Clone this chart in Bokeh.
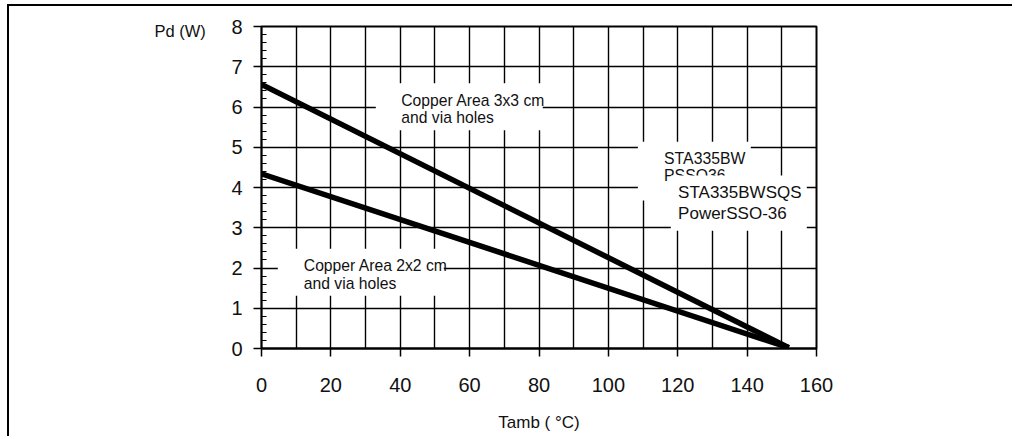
from bokeh.plotting import figure
from bokeh.models import Range1d, SingleIntervalTicker, FixedTicker
from bokeh.core.properties import value
from bokeh.embed import file_html
from bokeh.resources import INLINE

# ---- data ----
temp_3x3 = [0, 152]
pd_3x3 = [6.56, 0.02]
temp_2x2 = [0, 152]
pd_2x2 = [4.34, 0.02]

x_ticks = [0, 20, 40, 60, 80, 100, 120, 140, 160]
y_ticks = [0, 1, 2, 3, 4, 5, 6, 7, 8]
x_grid = [0, 10, 20, 30, 40, 50, 60, 70, 80, 90, 100, 110, 120, 130, 140, 150, 160]

note_3x3 = ["Copper Area 3x3 cm", "and via holes"]
note_2x2 = ["Copper Area 2x2 cm", "and via holes"]
note_old = ["STA335BW", "PSSO36"]
note_new = ["STA335BWSQS", "PowerSSO-36"]

FONT = "Liberation Sans"
INK = "#111111"

W, H = 1005, 432
p = figure(width=W, height=H, x_range=Range1d(0, 160), y_range=Range1d(0, 8),
           output_backend="svg", toolbar_location=None,
           min_border_left=252, min_border_right=198,
           min_border_top=20, min_border_bottom=90,
           background_fill_color="white", border_fill_color="white")
p.styles = {"margin-left": "7px", "margin-top": "4px",
            "border-top": "2px solid black", "border-left": "2px solid black"}

p.outline_line_color = "black"
p.outline_line_width = 2

# y-axis title, placed at the upper left of the axis
p.title.text = "Pd (W)"
p.title.align = "left"
p.title.offset = -107
p.title.standoff = -26
p.title.text_font = FONT
p.title.text_font_size = "16.5px"
p.title.text_font_style = "normal"
p.title.text_color = INK

# axes
p.xaxis.ticker = FixedTicker(ticks=x_ticks)
p.yaxis.ticker = SingleIntervalTicker(interval=1, num_minor_ticks=5)
for ax in (p.xaxis[0], p.yaxis[0]):
    ax.major_label_text_font = FONT
    ax.major_label_text_font_size = "20px"
    ax.major_label_text_color = INK
    ax.axis_line_color = "black"
    ax.major_tick_line_color = "black"
    ax.major_tick_line_width = 1.5
    ax.major_tick_out = 8
    ax.major_tick_in = 0
p.xaxis.axis_line_width = 2
p.xaxis.minor_tick_line_color = None
p.xaxis.major_label_standoff = 21
p.xaxis.axis_label = "Tamb ( °C)"
p.xaxis.axis_label_text_font = FONT
p.xaxis.axis_label_text_font_size = "17px"
p.xaxis.axis_label_text_font_style = "normal"
p.xaxis.axis_label_text_color = INK
p.xaxis.axis_label_standoff = 18
p.yaxis.axis_line_width = 1.5
p.yaxis.minor_tick_line_color = "black"
p.yaxis.minor_tick_line_width = 1.2
p.yaxis.minor_tick_in = 5
p.yaxis.minor_tick_out = 0
p.yaxis.major_label_standoff = 11

# grid
p.xgrid.ticker = FixedTicker(ticks=x_grid)
p.ygrid.ticker = FixedTicker(ticks=y_ticks)
for g in (p.xgrid[0], p.ygrid[0]):
    g.grid_line_color = "black"
    g.grid_line_width = 1.4

# curves
p.line(temp_3x3, pd_3x3, line_color="black", line_width=5.5)
p.line(temp_2x2, pd_2x2, line_color="black", line_width=5.5)

# white label boxes covering the grid, with their texts
def note(box, xs, ys, lines, size):
    l, r, t, b = box
    p.quad(left=[l], right=[r], top=[t], bottom=[b],
           fill_color="white", line_color=None)
    p.text(x=[xs] * len(lines), y=ys, text=lines,
           text_font=value(FONT), text_font_size=size, text_color=INK,
           text_align="left", text_baseline="middle")

note((32.95, 81.09, 6.592, 5.421), 40.3, [6.156, 5.745], note_3x3, "15.7px")
note((4.70, 52.55, 2.480, 1.308), 12.2, [2.056, 1.607], note_2x2, "15.7px")
note((108.5, 141.05, 5.134, 3.676), 116.06, [4.715, 4.287], note_old, "15.8px")
note((118.0, 157.2, 4.299, 2.928), 120.1, [3.883, 3.345], note_new, "17px")

open("out.html", "w").write(file_html(p, INLINE))
